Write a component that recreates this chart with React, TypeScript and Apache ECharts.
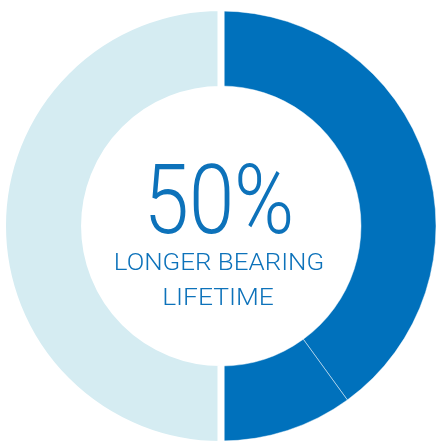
import React, { useEffect, useRef } from "react";
import * as echarts from "echarts";

const categories = ["Longer lifetime", "Longer lifetime (end)", "Standard lifetime"];
const improvedValues = [40, 10];
const baselineValues = [50];
const headline = "50%";
const captionLines = ["LONGER BEARING", "LIFETIME"];

const DARK = "#0071bc";
const LIGHT = "#d5ecf2";
const TEXT = "#0d72ba";

export default function App() {
  const ref = useRef<HTMLDivElement>(null);
  useEffect(() => {
    if (!ref.current) return;
    const chart = echarts.init(ref.current, undefined, { renderer: "svg" });
    const improvedTotal = improvedValues.reduce((a, b) => a + b, 0);
    const baselineTotal = baselineValues.reduce((a, b) => a + b, 0);
    chart.setOption({
      animation: false,
      series: [
        {
          type: "pie",
          silent: true,
          center: [221, 226],
          radius: [140, 215],
          startAngle: 90,
          clockwise: true,
          label: { show: false },
          labelLine: { show: false },
          data: [
            ...improvedValues.map((v, i) => ({
              value: v,
              name: categories[i],
              itemStyle: { color: DARK, borderColor: "rgba(255,255,255,0.45)", borderWidth: 1 },
            })),
            {
              value: baselineTotal,
              name: "placeholder-a",
              itemStyle: { color: "transparent", borderWidth: 0 },
            },
          ],
        },
        {
          type: "pie",
          silent: true,
          center: [221, 226],
          radius: [136.5, 218.5],
          startAngle: 90,
          clockwise: true,
          label: { show: false },
          labelLine: { show: false },
          data: [
            {
              value: improvedTotal,
              name: "placeholder-b",
              itemStyle: { color: "transparent", borderWidth: 0 },
            },
            ...baselineValues.map((v) => ({
              value: v,
              name: categories[2],
              itemStyle: { color: LIGHT, borderColor: "#ffffff", borderWidth: 7 },
            })),
          ],
        },
      ],
      graphic: [
        {
          type: "text",
          x: 219,
          y: 200,
          scaleX: 0.84,
          style: {
            text: headline,
            fill: TEXT,
            font: '300 97px Roboto',
            textAlign: "center",
            textVerticalAlign: "middle",
          },
        },
        {
          type: "text",
          x: 219,
          y: 262,
          scaleX: 1.08,
          style: {
            text: captionLines[0],
            fill: TEXT,
            font: '300 24px Roboto',
            textAlign: "center",
            textVerticalAlign: "middle",
          },
        },
        {
          type: "text",
          x: 218,
          y: 297,
          scaleX: 1.1,
          style: {
            text: captionLines[1],
            fill: TEXT,
            font: '300 24px Roboto',
            textAlign: "center",
            textVerticalAlign: "middle",
          },
        },
      ],
    });
    return () => chart.dispose();
  }, []);
  return (
    <div
      ref={ref}
      style={{ position: "fixed", left: 0, top: 0, width: 436, height: 442 }}
    />
  );
}
